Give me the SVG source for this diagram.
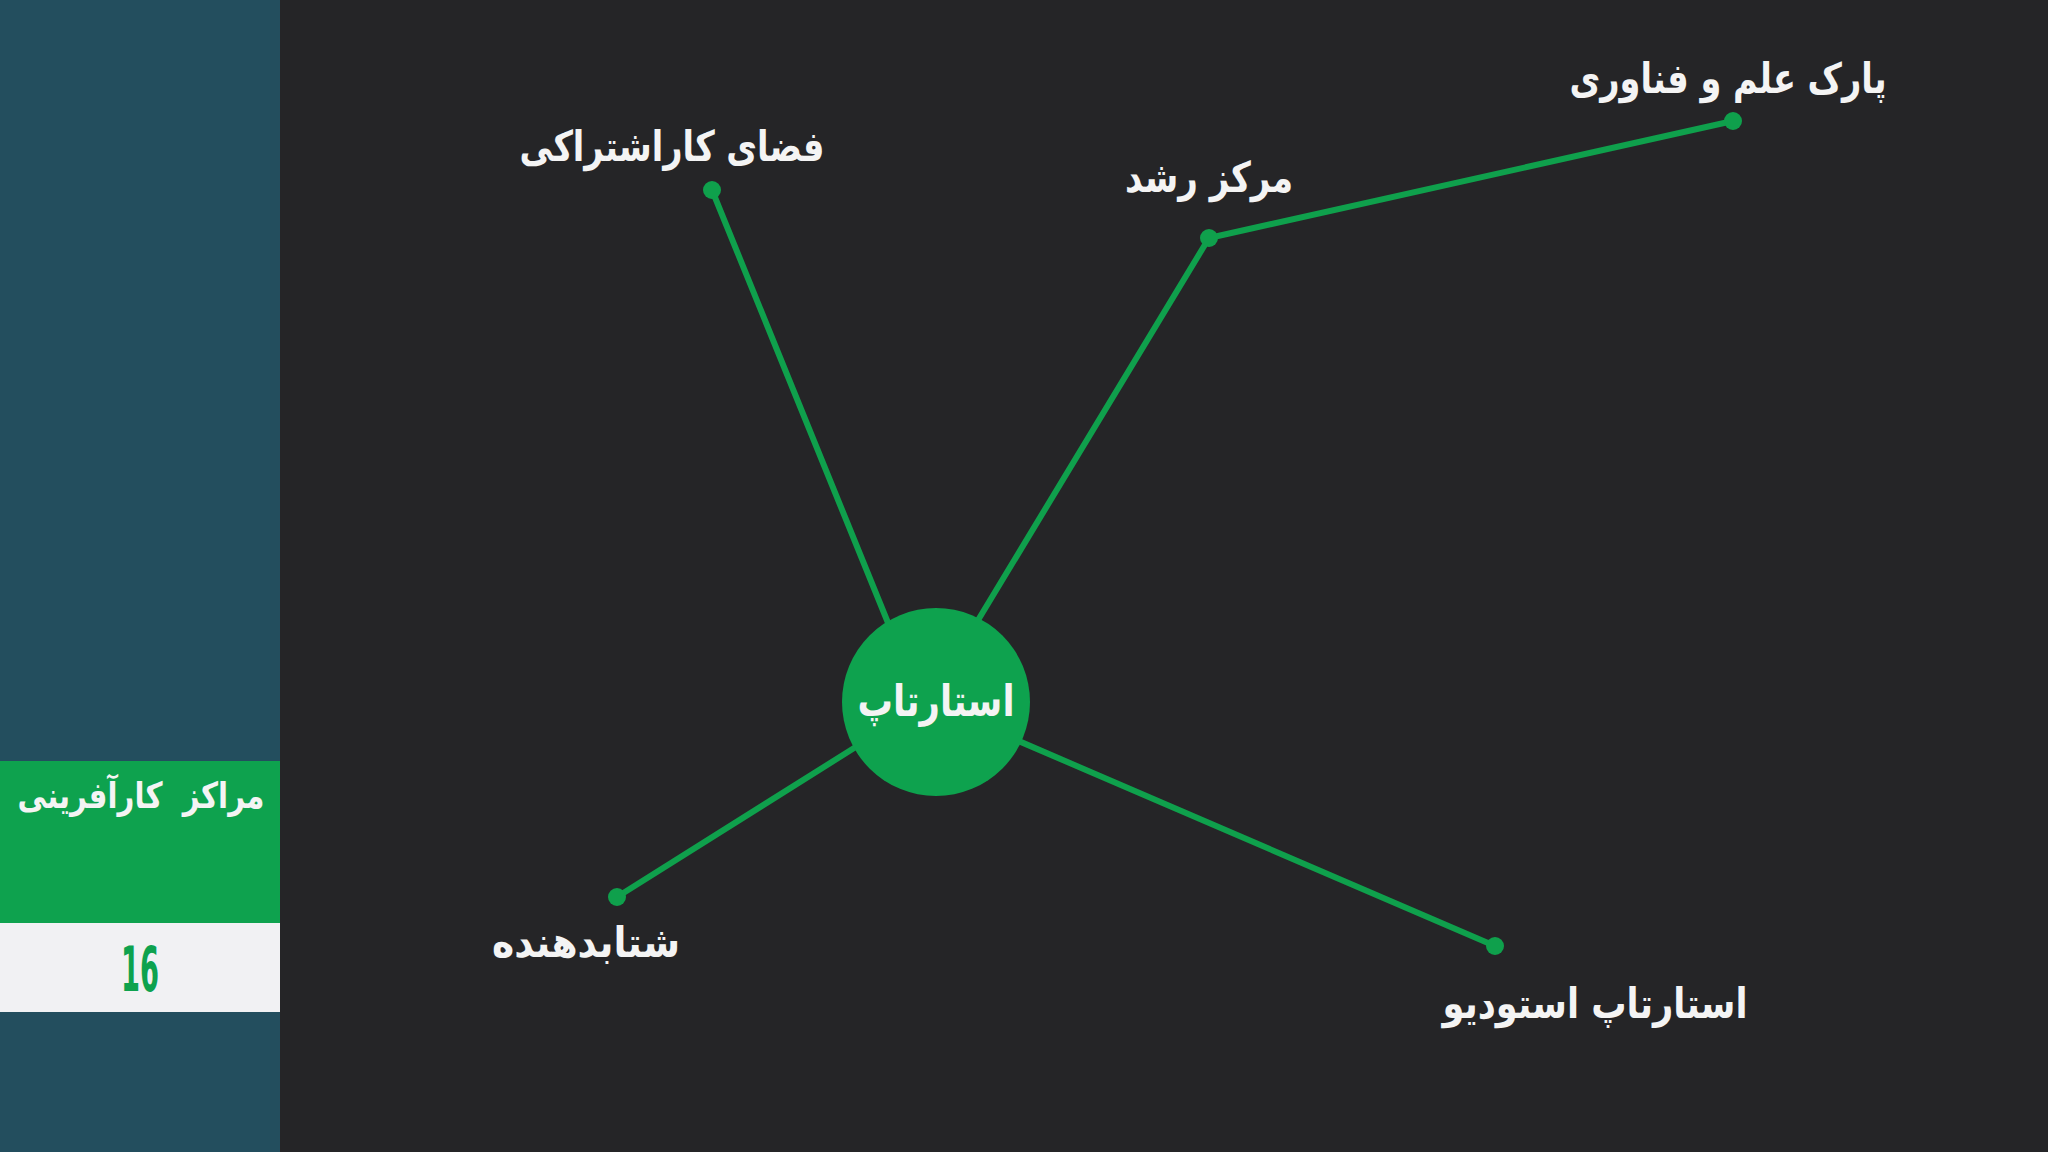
<svg xmlns="http://www.w3.org/2000/svg" width="2048" height="1152" viewBox="0 0 2048 1152">
  <style>
    .lbl { font-family: "DejaVu Sans", "Noto Sans", sans-serif; font-weight: bold; fill: #f4f4f4; text-anchor: middle; direction: rtl; white-space: pre; }
    .conn { stroke: #0fa04c; stroke-width: 6; fill: none; stroke-linecap: round; stroke-linejoin: round; }
    .dot { fill: #0fa04c; }
  </style>
  <rect x="0" y="0" width="2048" height="1152" fill="#252527"/>
  <g id="sidebar">
    <rect x="0" y="0" width="280" height="1152" fill="#234e5e"/>
    <rect x="0" y="761" width="280" height="162" fill="#0ea24e"/>
    <rect x="0" y="923" width="280" height="89" fill="#f1f1f3"/>
    <text class="lbl" x="141" y="808" font-size="36" textLength="247" lengthAdjust="spacingAndGlyphs">مراکز  کارآفرینی</text>
    <text x="140" y="991" font-family="Liberation Sans Narrow, DejaVu Sans Condensed, sans-serif" font-stretch="condensed" font-weight="bold" font-size="62" fill="#0ea24e" text-anchor="middle" textLength="38" lengthAdjust="spacingAndGlyphs">16</text>
  </g>
  <g id="connectors">
    <path class="conn" d="M712,190 L895,640"/>
    <path class="conn" d="M1733,121 L1209,238 L960,650"/>
    <path class="conn" d="M617,897 L870,738"/>
    <path class="conn" d="M1495,946 L1000,733"/>
    <circle class="dot" cx="712" cy="190" r="9"/>
    <circle class="dot" cx="1209" cy="238" r="9"/>
    <circle class="dot" cx="1733" cy="121" r="9"/>
    <circle class="dot" cx="617" cy="897" r="9"/>
    <circle class="dot" cx="1495" cy="946" r="9"/>
  </g>
  <g id="node-startup">
    <circle cx="936" cy="702" r="94" fill="#0ea24e"/>
    <text class="lbl" x="936" y="716" font-size="44" textLength="157" lengthAdjust="spacingAndGlyphs">استارتاپ</text>
  </g>
  <g id="node-coworking">
    <text class="lbl" x="672" y="161" font-size="42" textLength="305" lengthAdjust="spacingAndGlyphs">فضای کاراشتراکی</text>
  </g>
  <g id="node-incubator">
    <text class="lbl" x="1209" y="192" font-size="42" textLength="168" lengthAdjust="spacingAndGlyphs">مرکز رشد</text>
  </g>
  <g id="node-park">
    <text class="lbl" x="1728" y="93" font-size="42" textLength="317" lengthAdjust="spacingAndGlyphs">پارک علم و فناوری</text>
  </g>
  <g id="node-accelerator">
    <text class="lbl" x="586" y="957" font-size="42" textLength="188" lengthAdjust="spacingAndGlyphs">شتابدهنده</text>
  </g>
  <g id="node-studio">
    <text class="lbl" x="1595" y="1018" font-size="42" textLength="305" lengthAdjust="spacingAndGlyphs">استارتاپ استودیو</text>
  </g>
</svg>
